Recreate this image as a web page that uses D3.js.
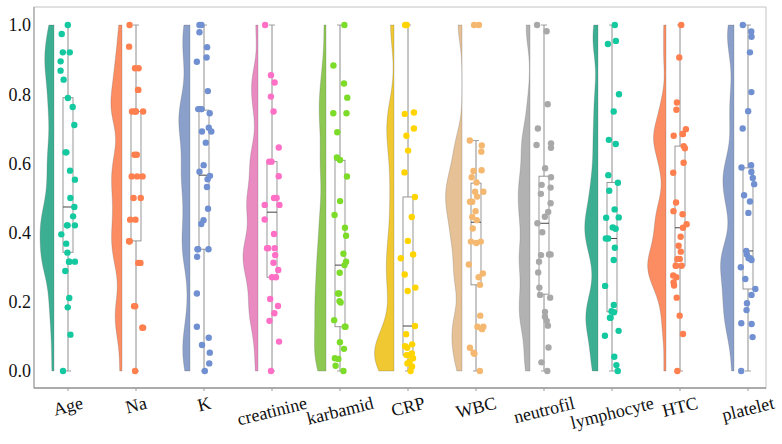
<!DOCTYPE html>
<html>
<head>
<meta charset="utf-8">
<script src="https://cdn.jsdelivr.net/npm/d3@7"></script>
<style>
  body { margin: 0; background: #fff; }
  svg { display: block; }
</style>
</head>
<body>
<div id="chart"></div>
<script>
// categories (x axis)
var categories = ["Age", "Na", "K", "creatinine", "karbamid", "CRP", "WBC", "neutrofil", "lymphocyte", "HTC", "platelet"];
var yTicks = [0.0, 0.2, 0.4, 0.6, 0.8, 1.0];

// normalised values per variable
var age = [1.0, 0.974, 0.921, 0.921, 0.895, 0.868, 0.842, 0.789, 0.763, 0.711, 0.632, 0.632, 0.579, 0.553, 0.5, 0.474, 0.447, 0.421, 0.421, 0.421, 0.395, 0.368, 0.342, 0.316, 0.316, 0.316, 0.289, 0.211, 0.184, 0.105, 0.0];
var na = [1.0, 0.9375, 0.875, 0.875, 0.8125, 0.8125, 0.75, 0.75, 0.75, 0.75, 0.625, 0.625, 0.5625, 0.5625, 0.5625, 0.5, 0.5, 0.4375, 0.4375, 0.375, 0.375, 0.375, 0.3125, 0.3125, 0.1875, 0.1875, 0.125, 0.125, 0.0];
var k = [1.0, 1.0, 0.979, 0.936, 0.906, 0.894, 0.809, 0.757, 0.757, 0.757, 0.745, 0.703, 0.692, 0.692, 0.66, 0.595, 0.576, 0.564, 0.554, 0.532, 0.469, 0.436, 0.425, 0.352, 0.352, 0.352, 0.33, 0.224, 0.128, 0.096, 0.075, 0.053, 0.022, 0.0];
var creatinine = [1.0, 0.855, 0.834, 0.793, 0.75, 0.646, 0.605, 0.605, 0.563, 0.5, 0.5, 0.48, 0.48, 0.438, 0.396, 0.355, 0.355, 0.355, 0.335, 0.313, 0.292, 0.271, 0.271, 0.208, 0.188, 0.167, 0.145, 0.085, 0.0];
var karbamid = [1.0, 0.883, 0.831, 0.79, 0.745, 0.745, 0.69, 0.617, 0.61, 0.562, 0.491, 0.451, 0.414, 0.391, 0.339, 0.316, 0.306, 0.284, 0.224, 0.224, 0.202, 0.198, 0.147, 0.128, 0.128, 0.083, 0.064, 0.037, 0.035, 0.015, 0.0];
var crp = [1.0, 1.0, 0.747, 0.743, 0.701, 0.68, 0.637, 0.574, 0.503, 0.445, 0.376, 0.337, 0.326, 0.279, 0.241, 0.231, 0.13, 0.106, 0.077, 0.072, 0.067, 0.051, 0.046, 0.046, 0.037, 0.027, 0.022, 0.013, 0.0];
var wbc = [1.0, 1.0, 0.666, 0.652, 0.634, 0.58, 0.578, 0.56, 0.545, 0.518, 0.518, 0.504, 0.489, 0.489, 0.462, 0.445, 0.436, 0.412, 0.374, 0.374, 0.37, 0.308, 0.282, 0.271, 0.249, 0.16, 0.128, 0.128, 0.121, 0.067, 0.053, 0.05, 0.0];
var neutrofil = [1.0, 0.982, 0.771, 0.701, 0.658, 0.653, 0.645, 0.586, 0.56, 0.538, 0.53, 0.512, 0.485, 0.46, 0.446, 0.427, 0.401, 0.337, 0.337, 0.335, 0.316, 0.285, 0.241, 0.22, 0.212, 0.171, 0.157, 0.145, 0.131, 0.068, 0.025, 0.0];
var lymphocyte = [1.0, 0.954, 0.945, 0.8, 0.75, 0.668, 0.656, 0.566, 0.544, 0.521, 0.467, 0.444, 0.443, 0.415, 0.411, 0.383, 0.383, 0.356, 0.321, 0.246, 0.191, 0.173, 0.17, 0.154, 0.154, 0.116, 0.102, 0.041, 0.017, 0.0];
var htc = [1.0, 0.906, 0.776, 0.755, 0.699, 0.685, 0.685, 0.68, 0.65, 0.644, 0.602, 0.573, 0.487, 0.462, 0.453, 0.424, 0.414, 0.388, 0.362, 0.345, 0.324, 0.324, 0.304, 0.304, 0.304, 0.276, 0.271, 0.256, 0.247, 0.212, 0.16, 0.107, 0.0];
var platelet = [1.0, 0.981, 0.966, 0.921, 0.806, 0.751, 0.701, 0.595, 0.588, 0.575, 0.558, 0.54, 0.508, 0.49, 0.457, 0.347, 0.337, 0.326, 0.326, 0.321, 0.3, 0.266, 0.237, 0.22, 0.196, 0.176, 0.138, 0.136, 0.098, 0.0];

// box plot stats as drawn
var q1 =     [0.343, 0.376, 0.352, 0.271, 0.128, 0.046, 0.249, 0.222, 0.171, 0.304, 0.237];
var median = [0.474, 0.564, 0.566, 0.459, 0.306, 0.130, 0.430, 0.427, 0.383, 0.414, 0.347];
var q3 =     [0.790, 0.750, 0.754, 0.605, 0.609, 0.503, 0.543, 0.563, 0.545, 0.650, 0.587];
var whiskerLo = [0, 0, 0, 0, 0, 0, 0, 0, 0, 0, 0];
var whiskerHi = [1, 1, 1, 1, 1, 1, 0.666, 1, 1, 1, 1];

var series = [age, na, k, creatinine, karbamid, crp, wbc, neutrofil, lymphocyte, htc, platelet];

var violinColours = ["#3caf93", "#fc8c62", "#8a9fca", "#e98bc1", "#8dc852", "#f0c832", "#e6c195", "#b2b2b2", "#3caf93", "#fc8c62", "#8a9fca"];
var pointColours  = ["#14c8a0", "#ff7f4e", "#7090d2", "#ff6fc6", "#7ddc2a", "#ffd400", "#f5b870", "#a8a8a8", "#14c8a0", "#ff7f4e", "#7090d2"];

function drawRaincloud() {
    var W = 782, H = 444;
    var frame = {left: 34, right: 766, top: 7, bottom: 388};
    var labelFont = "'Liberation Serif', 'DejaVu Serif', serif";

    var svg = d3.select("#chart").append("svg")
        .attr("width", W)
        .attr("height", H);

    var x = d3.scaleLinear().domain([0, categories.length - 1]).range([68, 748]);
    var y = d3.scaleLinear().domain([0, 1]).range([371, 25]);

    // plot frame
    svg.append("rect")
        .attr("x", frame.left).attr("y", frame.top)
        .attr("width", frame.right - frame.left)
        .attr("height", frame.bottom - frame.top)
        .attr("fill", "none")
        .attr("stroke", "#c4c4c4")
        .attr("stroke-width", 1);
    svg.append("line")
        .attr("x1", frame.left).attr("x2", frame.right)
        .attr("y1", frame.bottom).attr("y2", frame.bottom)
        .attr("stroke", "#777").attr("stroke-width", 1);
    svg.append("line")
        .attr("x1", frame.left).attr("x2", frame.left)
        .attr("y1", frame.top).attr("y2", frame.bottom)
        .attr("stroke", "#999").attr("stroke-width", 1);

    // y tick labels
    svg.append("g").selectAll("text")
        .data(yTicks)
        .enter().append("text")
        .attr("x", 31)
        .attr("y", function(d) { return y(d); })
        .attr("dy", "0.35em")
        .attr("text-anchor", "end")
        .style("font-family", labelFont)
        .style("font-size", "18px")
        .attr("fill", "#111")
        .text(function(d) { return d3.format(".1f")(d); });

    // x ticks + rotated labels (top of the rotated box sits just under the axis)
    svg.append("g").selectAll("line")
        .data(categories)
        .enter().append("line")
        .attr("x1", function(d, i) { return x(i); })
        .attr("x2", function(d, i) { return x(i); })
        .attr("y1", frame.bottom).attr("y2", frame.bottom + 3)
        .attr("stroke", "#999");
    var angle = 14;
    var xl = svg.append("g").selectAll("text")
        .data(categories)
        .enter().append("text")
        .attr("text-anchor", "middle")
        .attr("dy", "0.35em")
        .style("font-family", labelFont)
        .style("font-size", "18px")
        .attr("fill", "#111")
        .text(function(d) { return d; });
    xl.attr("transform", function(d, i) {
        var L = this.getComputedTextLength();
        var rad = angle * Math.PI / 180;
        var h = L * Math.sin(rad) + 17 * Math.cos(rad);
        return "translate(" + x(i) + "," + (394 + h / 2) + ") rotate(" + (-angle) + ")";
    });

    // half violins (gaussian kde, cut at data range)
    function kde(values, bw, grid) {
        return grid.map(function(t) {
            var s = 0;
            for (var i = 0; i < values.length; i++) {
                var u = (t - values[i]) / bw;
                s += Math.exp(-0.5 * u * u);
            }
            return [t, s / (values.length * bw * Math.sqrt(2 * Math.PI))];
        });
    }
    var densities = series.map(function(vals) {
        var bw = 0.2 * d3.deviation(vals);
        var lo = d3.min(vals), hi = d3.max(vals);
        var grid = d3.range(0, 121).map(function(j) { return lo + (hi - lo) * j / 120; });
        return kde(vals, bw, grid);
    });
    var maxDens = d3.max(densities, function(d) { return d3.max(d, function(p) { return p[1]; }); });
    var w = d3.scaleLinear().domain([0, maxDens]).range([0, 19.5]);

    var violins = svg.append("g");
    densities.forEach(function(dens, i) {
        var edge = x(i) - 14;
        var area = d3.area()
            .curve(d3.curveBasis)
            .y(function(p) { return y(p[0]); })
            .x0(edge)
            .x1(function(p) { return edge - w(p[1]); });
        violins.append("path")
            .datum(dens)
            .attr("d", area)
            .attr("fill", violinColours[i])
            .attr("stroke", "#5a5a5a")
            .attr("stroke-width", 0.4)
            .attr("stroke-opacity", 0.6);
    });

    // boxes
    var boxes = svg.append("g");
    categories.forEach(function(c, i) {
        var cx = x(i);
        boxes.append("line")
            .attr("x1", cx).attr("x2", cx)
            .attr("y1", y(whiskerLo[i])).attr("y2", y(whiskerHi[i]))
            .attr("stroke", "#8c8c8c").attr("stroke-width", 1);
        [whiskerLo[i], whiskerHi[i]].forEach(function(v) {
            boxes.append("line")
                .attr("x1", cx - 3).attr("x2", cx + 3)
                .attr("y1", y(v)).attr("y2", y(v))
                .attr("stroke", "#8c8c8c").attr("stroke-width", 0.8);
        });
        boxes.append("rect")
            .attr("x", cx - 5).attr("width", 10)
            .attr("y", y(q3[i])).attr("height", y(q1[i]) - y(q3[i]))
            .attr("fill", "#fff")
            .attr("stroke", "#8c8c8c").attr("stroke-width", 0.9);
        boxes.append("line")
            .attr("x1", cx - 5).attr("x2", cx + 5)
            .attr("y1", y(median[i])).attr("y2", y(median[i]))
            .attr("stroke", "#444").attr("stroke-width", 1);
        // fliers
        series[i].filter(function(v) { return v > whiskerHi[i] || v < whiskerLo[i]; })
            .forEach(function(v) {
                boxes.append("rect")
                    .attr("x", cx - 1.5).attr("y", y(v) - 1.5)
                    .attr("width", 3).attr("height", 3)
                    .attr("fill", "#333");
            });
    });

    // jittered points
    var rand = d3.randomUniform.source(d3.randomLcg(0.37))(-7.5, 7.5);
    var dots = svg.append("g");
    series.forEach(function(vals, i) {
        dots.selectAll(null)
            .data(vals)
            .enter().append("circle")
            .attr("cx", function() { return x(i) + rand(); })
            .attr("cy", function(d) { return y(d); })
            .attr("r", 3.2)
            .attr("fill", pointColours[i]);
    });
}

drawRaincloud();
</script>
</body>
</html>
